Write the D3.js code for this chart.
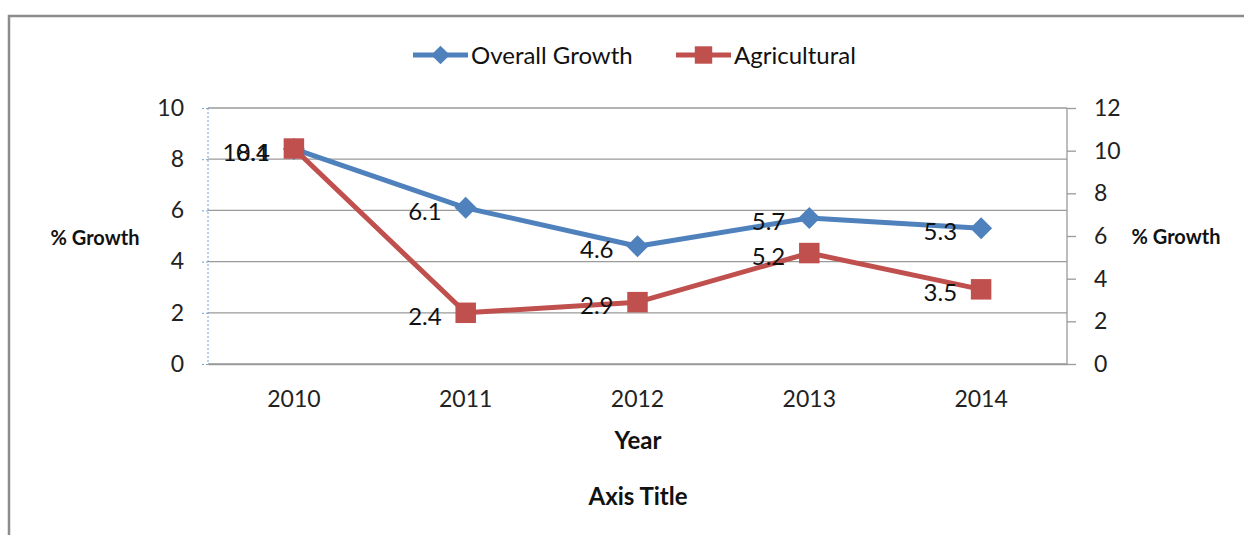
<!DOCTYPE html>
<html>
<head>
<meta charset="utf-8">
<script src="https://cdn.jsdelivr.net/npm/d3@7"></script>
<style>
  body { margin: 0; background: #fff; }
  svg { display: block; font-family: Lato, "Open Sans", sans-serif; }
</style>
</head>
<body>
<svg id="chart" width="1244" height="535"></svg>
<script>
// data
var years = ["2010", "2011", "2012", "2013", "2014"];
var overallGrowth = [8.4, 6.1, 4.6, 5.7, 5.3];   // left axis
var agricultural = [10.1, 2.4, 2.9, 5.2, 3.5];   // right axis
var leftTicks = [0, 2, 4, 6, 8, 10];
var rightTicks = [0, 2, 4, 6, 8, 10, 12];

var blue = "#4F81BD", red = "#C0504D";

var svg = d3.select("#chart"),
    margin = {top: 108, left: 208, right: 1067, bottom: 364};

// outer chart border (runs off the right/bottom of the picture)
svg.append("path")
  .attr("d", "M9,535V16H1244")
  .attr("fill", "none")
  .attr("stroke", "#8c8c8c")
  .attr("stroke-width", 2.5);

var x = d3.scaleBand().domain(years).range([margin.left, margin.right]).padding(0);
var yL = d3.scaleLinear().domain([0, 10]).range([margin.bottom, margin.top]);
var yR = d3.scaleLinear().domain([0, 12]).range([margin.bottom, margin.top]);
var cx = function(d, i) { return x(years[i]) + x.bandwidth() / 2; };

// gridlines
svg.append("g")
  .selectAll("line")
  .data(leftTicks)
  .enter().append("line")
  .attr("x1", margin.left)
  .attr("x2", margin.right)
  .attr("y1", function(d) { return yL(d); })
  .attr("y2", function(d) { return yL(d); })
  .attr("stroke", "#9a9a9a")
  .attr("stroke-width", 1.3);

// left axis (dotted blue as in the reference)
var gl = svg.append("g")
  .attr("transform", "translate(" + margin.left + ",0)")
  .call(d3.axisLeft(yL).tickValues(leftTicks).tickSize(8).tickPadding(16));
gl.selectAll("path, line")
  .attr("stroke", "#6fa0d8")
  .attr("stroke-dasharray", "2,2");
gl.select(".domain").attr("d", "M0," + margin.top + "V" + margin.bottom);
gl.selectAll("text").attr("font-size", 23).attr("fill", "#222").attr("font-family", "Lato, sans-serif");

// right axis
var gr = svg.append("g")
  .attr("transform", "translate(" + margin.right + ",0)")
  .call(d3.axisRight(yR).tickValues(rightTicks).tickSize(9).tickPadding(18));
gr.selectAll("path, line").attr("stroke", "#9a9a9a").attr("stroke-width", 1.3);
gr.select(".domain").attr("d", "M0," + margin.top + "V" + margin.bottom);
gr.selectAll("text").attr("font-size", 23).attr("fill", "#222").attr("font-family", "Lato, sans-serif");

// bottom axis
var gb = svg.append("g")
  .attr("transform", "translate(0," + margin.bottom + ")")
  .call(d3.axisBottom(x).tickSize(0).tickPadding(27));
gb.select(".domain").attr("stroke", "#9a9a9a").attr("stroke-width", 1.3);
gb.selectAll("text").attr("font-size", 23).attr("fill", "#222").attr("font-family", "Lato, sans-serif");

// axis titles
svg.append("text").attr("x", 95).attr("y", 245).attr("text-anchor", "middle")
  .attr("font-size", 20).attr("font-weight", "bold").attr("fill", "#111").text("% Growth");
svg.append("text").attr("x", 1176).attr("y", 244).attr("text-anchor", "middle")
  .attr("font-size", 20).attr("font-weight", "bold").attr("fill", "#111").text("% Growth");
svg.append("text").attr("x", 638).attr("y", 449).attr("text-anchor", "middle")
  .attr("font-size", 24).attr("font-weight", "bold").attr("fill", "#111").text("Year");
svg.append("text").attr("x", 638).attr("y", 505).attr("text-anchor", "middle")
  .attr("font-size", 24).attr("font-weight", "bold").attr("fill", "#111").text("Axis Title");

// Excel-style diamond: a square turned 45 degrees
var diamond = "M0,-11L11,0L0,11L-11,0Z";
var square = d3.symbol().type(d3.symbolSquare).size(420)();

function drawSeries(values, scale, color, sym) {
  var line = d3.line()
    .x(cx)
    .y(function(d) { return scale(d); });
  svg.append("path")
    .datum(values)
    .attr("fill", "none")
    .attr("stroke", color)
    .attr("stroke-width", 5)
    .attr("stroke-linejoin", "round")
    .attr("d", line);
  svg.append("g")
    .selectAll("path")
    .data(values)
    .enter().append("path")
    .attr("transform", function(d, i) { return "translate(" + cx(d, i) + "," + scale(d) + ")"; })
    .attr("d", sym)
    .attr("fill", color);
}

function drawLabels(values, scale) {
  svg.append("g")
    .selectAll("text")
    .data(values)
    .enter().append("text")
    .attr("x", function(d, i) { return cx(d, i) - 24; })
    .attr("y", function(d) { return scale(d) + 12; })
    .attr("text-anchor", "end")
    .attr("font-size", 24)
    .attr("fill", "#111")
    .text(function(d) { return d3.format(".1f")(d); });
}

drawSeries(overallGrowth, yL, blue, diamond);
drawSeries(agricultural, yR, red, square);
drawLabels(overallGrowth, yL);
drawLabels(agricultural, yR);

// legend
var legend = svg.append("g");
var items = [
  {name: "Overall Growth", color: blue, sym: diamond, x: 413},
  {name: "Agricultural", color: red, sym: square, x: 676}
];
items.forEach(function(it) {
  legend.append("line")
    .attr("x1", it.x).attr("x2", it.x + 55)
    .attr("y1", 55).attr("y2", 55)
    .attr("stroke", it.color).attr("stroke-width", 5);
  legend.append("path")
    .attr("transform", "translate(" + (it.x + 27.5) + ",55) scale(0.85)")
    .attr("d", it.sym)
    .attr("fill", it.color);
  legend.append("text")
    .attr("x", it.x + 58).attr("y", 64)
    .attr("font-size", 24).attr("fill", "#111")
    .text(it.name);
});
</script>
</body>
</html>
